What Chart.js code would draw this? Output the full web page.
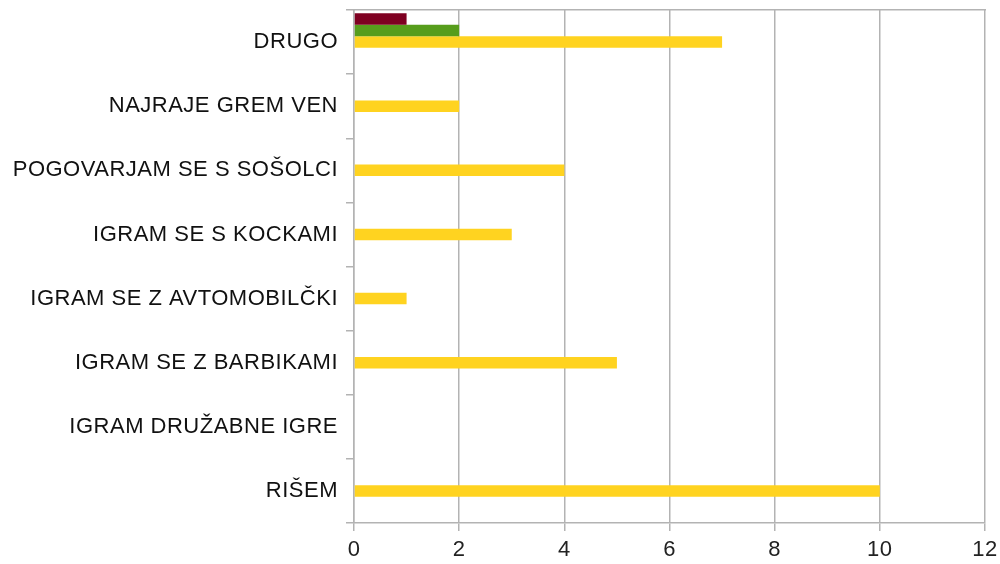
<!DOCTYPE html>
<html>
<head>
<meta charset="utf-8">
<script src="https://cdn.jsdelivr.net/npm/chart.js@4"></script>
<style>
  html, body { margin: 0; padding: 0; background: #fff; }
  #wrap { width: 1000px; height: 564px; }
</style>
</head>
<body>
<div id="wrap"><canvas id="chart"></canvas></div>
<script>
const categories = ['DRUGO', 'NAJRAJE GREM VEN', 'POGOVARJAM SE S SOŠOLCI', 'IGRAM SE S KOCKAMI',
  'IGRAM SE Z AVTOMOBILČKI', 'IGRAM SE Z BARBIKAMI', 'IGRAM DRUŽABNE IGRE', 'RIŠEM'];
const series5 = [1, 0, 0, 0, 0, 0, 0, 0];
const series4 = [2, 0, 0, 0, 0, 0, 0, 0];
const series3 = [7, 2, 4, 3, 1, 5, 0, 10];
const series2 = [];
const series1 = [];
const xTicks = [0, 2, 4, 6, 8, 10, 12];

const grey = '#b3b3b3';
const labelFont = { family: 'Liberation Sans', size: 22 };

// the original text is a little wider than Liberation Sans
const wideText = {
  id: 'wideText',
  beforeLayout: chart => { chart.ctx.letterSpacing = '0.5px'; },
  beforeDraw: chart => { chart.ctx.letterSpacing = '0.5px'; }
};

new Chart(document.getElementById('chart'), {
  type: 'bar',
  plugins: [wideText],
  data: {
    labels: categories,
    datasets: [
      { label: 'Series 5', data: series5, backgroundColor: '#7e0021' },
      { label: 'Series 4', data: series4, backgroundColor: '#579d1c' },
      { label: 'Series 3', data: series3, backgroundColor: '#ffd320' },
      { label: 'Series 2', data: series2, backgroundColor: '#ff420e' },
      { label: 'Series 1', data: series1, backgroundColor: '#004586' }
    ]
  },
  options: {
    indexAxis: 'y',
    responsive: true,
    maintainAspectRatio: false,
    animation: false,
    layout: { padding: { left: 0, right: 15, top: 10, bottom: 0 } },
    datasets: { bar: { categoryPercentage: 0.9, barPercentage: 1 } },
    plugins: { legend: { display: false }, tooltip: { enabled: false } },
    scales: {
      x: {
        min: 0,
        max: 12,
        afterBuildTicks: axis => { axis.ticks = xTicks.map(v => ({ value: v })); },
        afterFit: axis => {
          axis.height = 41;
          axis.paddingLeft = 0;
          axis.paddingRight = 0;
        },
        grid: { color: grey, lineWidth: 1.5, tickLength: 8 },
        border: { color: grey, width: 1.5 },
        ticks: { color: '#222', font: labelFont, padding: 6, maxRotation: 0 }
      },
      xTop: {
        position: 'top',
        min: 0,
        max: 12,
        afterFit: axis => { axis.height = 0; },
        grid: { display: false },
        border: { color: grey, width: 1.5 },
        ticks: { display: false }
      },
      y: {
        afterFit: axis => {
          axis.width = 354;
          axis.paddingTop = 0;
          axis.paddingBottom = 0;
        },
        grid: { color: grey, lineWidth: 1.5, tickLength: 8, offset: true, drawOnChartArea: false },
        border: { color: grey, width: 1.5 },
        ticks: { color: '#111', font: labelFont, padding: 8 }
      }
    }
  }
});
</script>
</body>
</html>
